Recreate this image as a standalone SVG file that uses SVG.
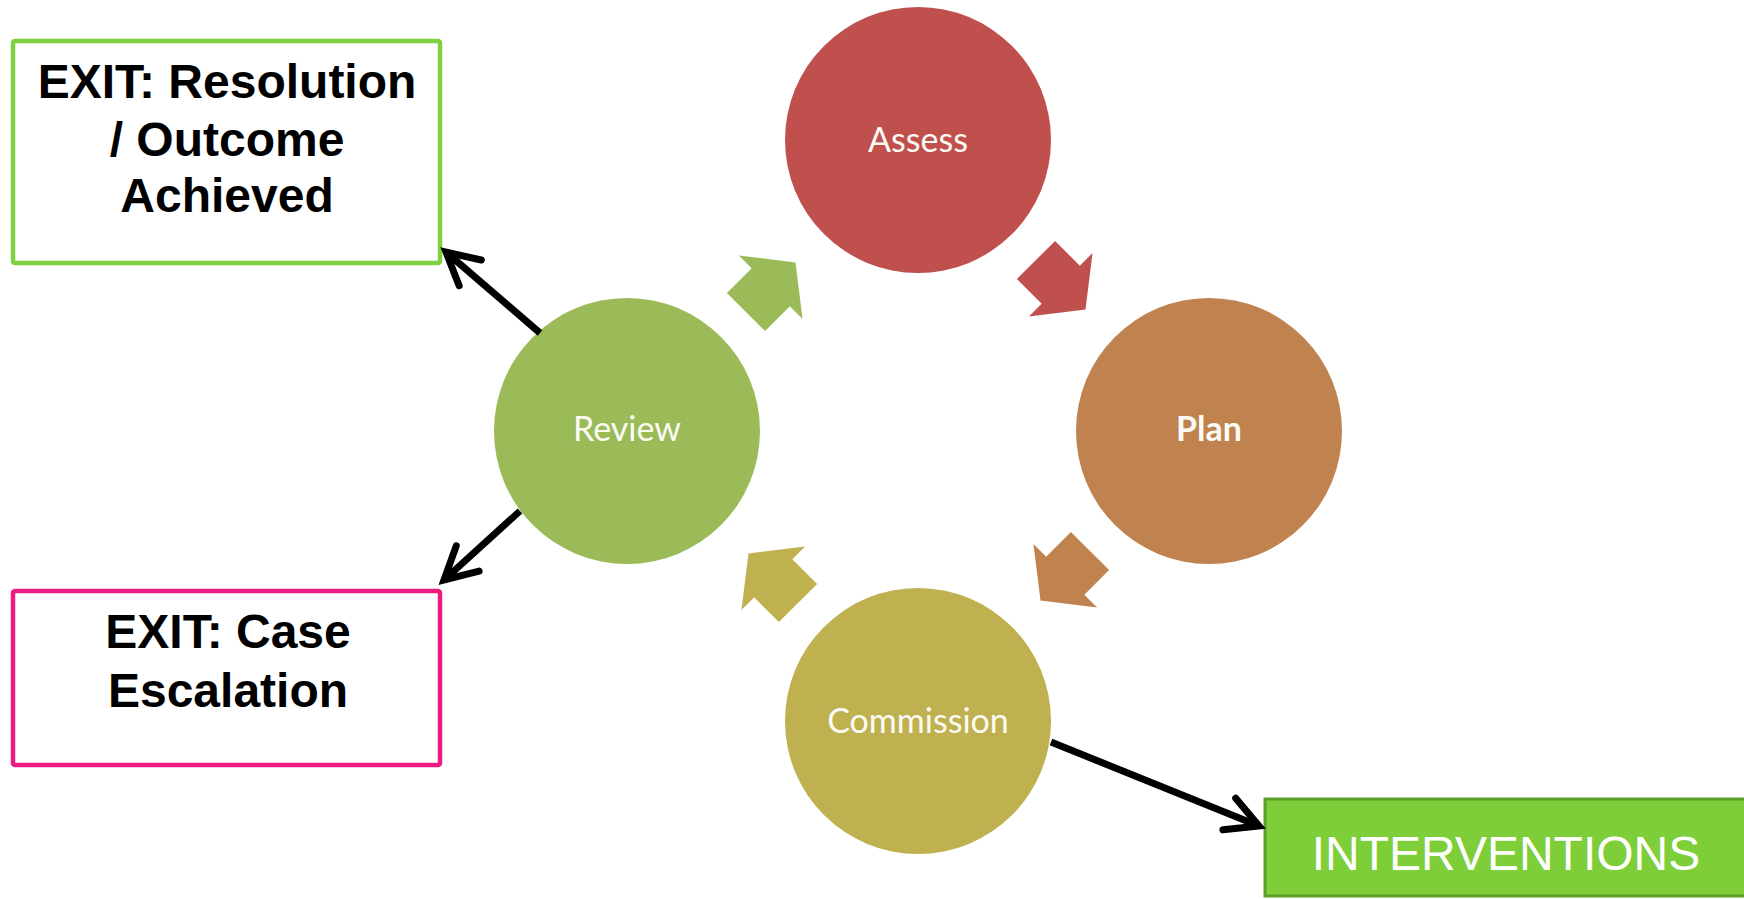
<svg xmlns="http://www.w3.org/2000/svg" width="1744" height="899" viewBox="0 0 1744 899">
<defs>
<style>
.exit{font-family:"Liberation Sans",Arial,sans-serif;font-weight:bold;font-size:48px;fill:#000;text-anchor:middle}
.step{font-family:Lato,"Open Sans",sans-serif;font-size:34px;fill:#fbfbf4;text-anchor:middle}
.conn{stroke:#000;stroke-width:7;fill:none}
</style>
<marker id="head" markerUnits="userSpaceOnUse" markerWidth="60" markerHeight="60" viewBox="-40 -30 60 60" refX="0" refY="0" orient="auto">
<path d="M-32,-17 L0,0 L-32,17" fill="none" stroke="#000" stroke-width="7" stroke-linecap="round" stroke-linejoin="miter"/>
</marker>
<path id="barrow" d="M0,-27 L35,-27 L35,-45 L70,0 L35,45 L35,27 L0,27 Z"/>
</defs>
<rect width="1744" height="899" fill="#fff"/>

<g id="cycle-arrows">
<use href="#barrow" fill="#9bbb59" transform="translate(746,312) rotate(-45)"/>
<use href="#barrow" fill="#c0504d" transform="translate(1036,260) rotate(45)"/>
<use href="#barrow" fill="#c0824e" transform="translate(1090,551) rotate(135)"/>
<use href="#barrow" fill="#bfb150" transform="translate(798,603) rotate(-135)"/>
</g>

<g id="assess">
<circle cx="918" cy="140" r="133" fill="#c0504d"/>
<text class="step" x="918" y="152">Assess</text>
</g>
<g id="plan">
<circle cx="1209" cy="431" r="133" fill="#c0824e"/>
<text class="step" x="1209" y="441" font-weight="bold">Plan</text>
</g>
<g id="commission">
<circle cx="918" cy="721" r="133" fill="#bfb150"/>
<text class="step" x="918" y="733">Commission</text>
</g>
<g id="review">
<circle cx="627" cy="431" r="133" fill="#9bbb59"/>
<text class="step" x="627" y="441">Review</text>
</g>

<g id="exit-resolution">
<rect x="13" y="41" width="427" height="222" rx="2" fill="#fff" stroke="#7ed03e" stroke-width="4.5"/>
<text class="exit" x="227" y="98">EXIT: Resolution</text>
<text class="exit" x="227" y="156">/ Outcome</text>
<text class="exit" x="227" y="212">Achieved</text>
</g>

<g id="exit-escalation">
<rect x="13" y="591" width="427" height="174" rx="2" fill="#fff" stroke="#ec1c80" stroke-width="4.5"/>
<text class="exit" x="228" y="648">EXIT: Case</text>
<text class="exit" x="228" y="707">Escalation</text>
</g>

<g id="interventions">
<rect x="1265" y="799" width="484" height="97" fill="#7ece3a" stroke="#5c9e2b" stroke-width="3"/>
<text x="1506" y="870" font-family="Liberation Sans,Arial,sans-serif" font-size="48" fill="#fff" text-anchor="middle">INTERVENTIONS</text>
</g>

<g id="connectors">
<line class="conn" x1="540" y1="333" x2="446" y2="252" marker-end="url(#head)"/>
<line class="conn" x1="520" y1="511" x2="444" y2="580" marker-end="url(#head)"/>
<line class="conn" x1="1051" y1="742" x2="1259" y2="826" marker-end="url(#head)"/>
</g>
</svg>
